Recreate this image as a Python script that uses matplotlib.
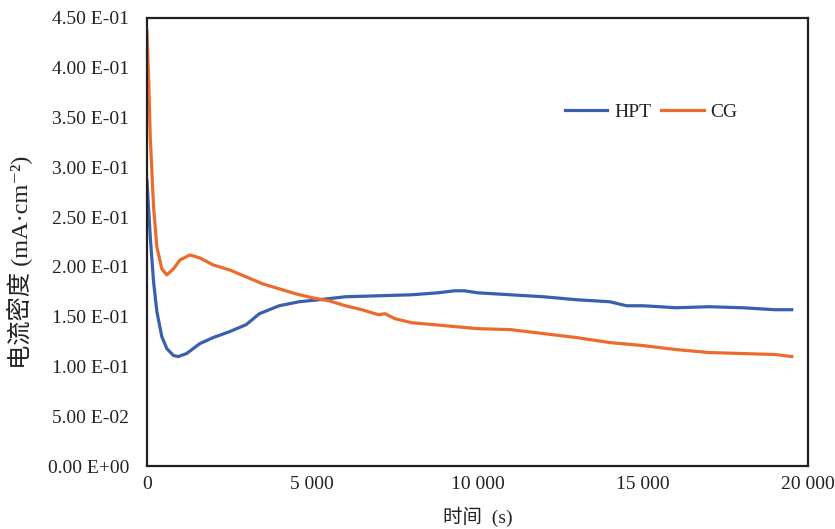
import matplotlib
matplotlib.use("Agg")
import matplotlib.pyplot as plt

hpt_t = [0, 100, 200, 300, 450, 600, 800, 950, 1200, 1600, 2000, 2500, 3000, 3400, 4000, 4600,
         5200, 6000, 7000, 8000, 8800, 9300, 9600, 10000, 11000, 12000, 13000, 14000, 14500,
         15000, 16000, 17000, 18000, 19000, 19500]
hpt_v = [0.287, 0.23, 0.185, 0.155, 0.13, 0.118, 0.111, 0.110, 0.113, 0.123, 0.129, 0.135, 0.142,
         0.153, 0.161, 0.165, 0.167, 0.170, 0.171, 0.172, 0.174, 0.176, 0.176, 0.174, 0.172, 0.170,
         0.167, 0.165, 0.161, 0.161, 0.159, 0.160, 0.159, 0.157, 0.157]

cg_t = [0, 50, 100, 200, 300, 450, 600, 800, 1000, 1300, 1600, 2000, 2500, 3000, 3500, 4000,
        4500, 5000, 5500, 6000, 6500, 7000, 7200, 7500, 8000, 9000, 10000, 11000, 12000, 13000,
        14000, 15000, 16000, 17000, 18000, 19000, 19500]
cg_v = [0.437, 0.39, 0.33, 0.26, 0.22, 0.198, 0.192, 0.198, 0.207, 0.212, 0.209, 0.202, 0.197,
        0.190, 0.183, 0.178, 0.173, 0.169, 0.166, 0.161, 0.157, 0.152, 0.153, 0.148, 0.144, 0.141,
        0.138, 0.137, 0.133, 0.129, 0.124, 0.121, 0.117, 0.114, 0.113, 0.112, 0.110]

y_ticks = [0.0, 0.05, 0.10, 0.15, 0.20, 0.25, 0.30, 0.35, 0.40, 0.45]
y_labels = ["0.00 E+00", "5.00 E-02", "1.00 E-01", "1.50 E-01", "2.00 E-01",
            "2.50 E-01", "3.00 E-01", "3.50 E-01", "4.00 E-01", "4.50 E-01"]
x_ticks = [0, 5000, 10000, 15000, 20000]
x_labels = ["0", "5 000", "10 000", "15 000", "20 000"]

fam = ['Liberation Serif', 'Noto Sans CJK SC', 'DejaVu Serif']
fs = 14
tc = '#222222'

fig = plt.figure(figsize=(8.35, 5.29), dpi=100)
ax = fig.add_axes([0.176, 0.119, 0.792, 0.847])
ax.plot(hpt_t, hpt_v, color='#3a5fad', lw=2.3, label='HPT')
ax.plot(cg_t, cg_v, color='#ec6a2c', lw=2.3, label='CG')
ax.set_xlim(0, 20000)
ax.set_ylim(0, 0.45)
ax.set_yticks(y_ticks)
ax.set_yticklabels(y_labels, family=fam, fontsize=fs, color=tc)
ax.set_xticks(x_ticks)
ax.set_xticklabels(x_labels, family=fam, fontsize=fs, color=tc)
ax.tick_params(axis='y', length=0, pad=13)
ax.tick_params(axis='x', length=0, pad=7)
for s in ax.spines.values():
    s.set_linewidth(1.6)
    s.set_color(tc)
ax.set_ylabel('电流密度 (mA·cm⁻²)', family=fam, fontsize=17.5, color=tc)
ax.yaxis.set_label_coords(-0.172, 0.455)
ax.set_xlabel('时间  (s)', family=fam, fontsize=fs, color=tc, labelpad=10)
leg = ax.legend(loc='center', bbox_to_anchor=(0.7625, 0.79), ncol=2, frameon=False,
                prop={'family': fam, 'size': fs}, handlelength=2.2, columnspacing=0.5,
                handletextpad=0.35)
for t in leg.get_texts():
    t.set_color(tc)
fig.savefig('out.png', dpi=100)
